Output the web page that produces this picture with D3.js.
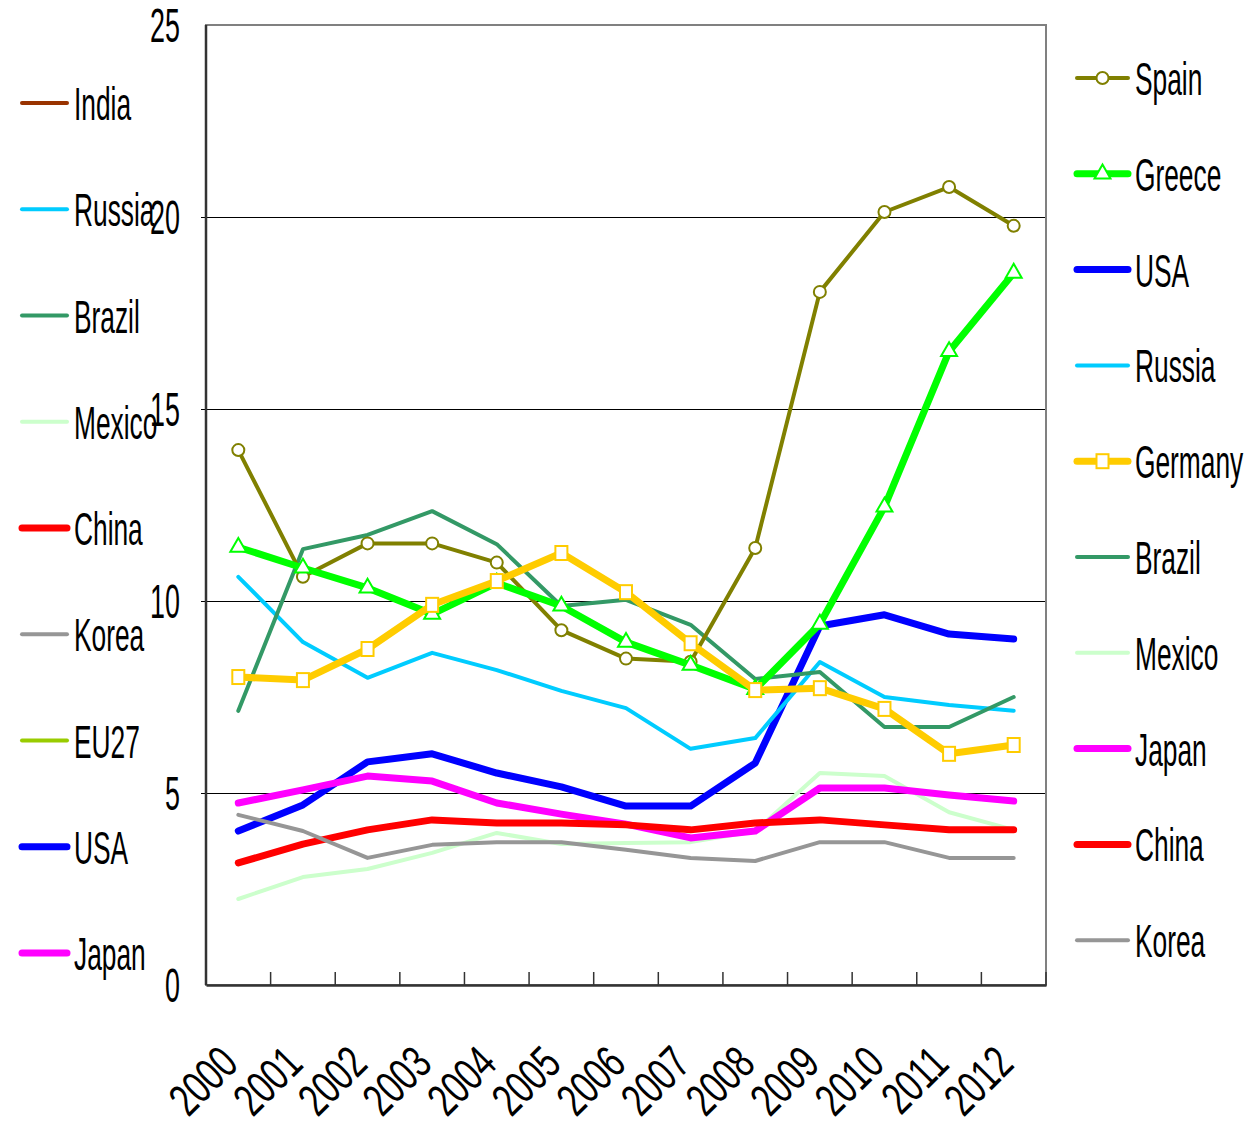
<!DOCTYPE html>
<html>
<head>
<meta charset="utf-8">
<script src="https://cdn.jsdelivr.net/npm/d3@7"></script>
<style>
  body { margin: 0; background: #fff; }
  text { font-family: "Liberation Sans", Arial, sans-serif; fill: #000; }
</style>
</head>
<body>
<div id="chart"></div>
<script>
// data
const years = ["2000","2001","2002","2003","2004","2005","2006","2007","2008","2009","2010","2011","2012"];
const yTicks = [0, 5, 10, 15, 20, 25];

const spain   = [13.93, 10.63, 11.5, 11.5, 11.0, 9.24, 8.5, 8.42, 11.38, 18.05, 20.13, 20.78, 19.77];
const greece  = [11.4, 10.86, 10.34, 9.66, 10.47, 9.87, 8.93, 8.33, 7.7, 9.4, 12.45, 16.5, 18.54];
const usa     = [4.01, 4.69, 5.81, 6.02, 5.52, 5.16, 4.66, 4.66, 5.78, 9.35, 9.64, 9.14, 9.01];
const russia  = [10.63, 8.93, 8.0, 8.65, 8.2, 7.66, 7.21, 6.15, 6.43, 8.41, 7.5, 7.29, 7.14];
const germany = [8.02, 7.94, 8.75, 9.9, 10.52, 11.25, 10.23, 8.9, 7.68, 7.73, 7.19, 6.02, 6.25];
const brazil  = [7.14, 11.35, 11.72, 12.34, 11.48, 9.87, 10.03, 9.38, 7.97, 8.15, 6.72, 6.72, 7.5];
const mexico  = [2.24, 2.81, 3.02, 3.44, 3.96, 3.67, 3.7, 3.72, 4.0, 5.52, 5.44, 4.5, 4.04];
const japan   = [4.74, 5.08, 5.44, 5.31, 4.74, 4.45, 4.19, 3.83, 4.01, 5.13, 5.13, 4.95, 4.79];
const china   = [3.18, 3.67, 4.04, 4.3, 4.22, 4.22, 4.17, 4.04, 4.22, 4.3, 4.17, 4.04, 4.04];
const korea   = [4.43, 4.01, 3.31, 3.65, 3.72, 3.72, 3.52, 3.31, 3.23, 3.72, 3.72, 3.31, 3.31];

const rightLegend = ["Spain", "Greece", "USA", "Russia", "Germany", "Brazil", "Mexico", "Japan", "China", "Korea"];
const leftLegend = ["India", "Russia", "Brazil", "Mexico", "China", "Korea", "EU27", "USA", "Japan"];

// styles per series
const style = {
  Spain:   { color: "#808000", w: 4, marker: "circle" },
  Greece:  { color: "#00ff00", w: 7, marker: "triangle" },
  USA:     { color: "#0000ff", w: 7 },
  Russia:  { color: "#00ccff", w: 4 },
  Germany: { color: "#ffcc00", w: 7, marker: "square" },
  Brazil:  { color: "#339966", w: 4 },
  Mexico:  { color: "#ccffcc", w: 4 },
  Japan:   { color: "#ff00ff", w: 7 },
  China:   { color: "#ff0000", w: 7 },
  Korea:   { color: "#969696", w: 4 },
  India:   { color: "#993300", w: 4 },
  EU27:    { color: "#99cc00", w: 4 }
};

// draw order, bottom to top
const series = [
  { name: "Mexico", values: mexico },
  { name: "USA", values: usa },
  { name: "Japan", values: japan },
  { name: "China", values: china },
  { name: "Korea", values: korea },
  { name: "Russia", values: russia },
  { name: "Brazil", values: brazil },
  { name: "Spain", values: spain },
  { name: "Greece", values: greece },
  { name: "Germany", values: germany }
];

const W = 1247, H = 1136;
const plot = { left: 206, right: 1046, top: 25, bottom: 985 };
const squash = 0.56;  // the original font is very narrow

const svg = d3.select("#chart").append("svg")
    .attr("width", W)
    .attr("height", H);

const x = d3.scaleBand()
    .domain(years)
    .range([plot.left, plot.right]);

const y = d3.scaleLinear()
    .domain([0, 25])
    .range([plot.bottom, plot.top]);

// grid
svg.append("g")
    .selectAll("line")
    .data(yTicks.filter(d => d > 0 && d < 25))
    .enter().append("line")
    .attr("x1", plot.left - 5)
    .attr("x2", plot.right)
    .attr("y1", d => Math.round(y(d)) + 0.5)
    .attr("y2", d => Math.round(y(d)) + 0.5)
    .attr("stroke", "#000")
    .attr("stroke-width", 1);

// frame
svg.append("rect")
    .attr("x", plot.left)
    .attr("y", plot.top)
    .attr("width", plot.right - plot.left)
    .attr("height", plot.bottom - plot.top)
    .attr("fill", "none")
    .attr("stroke", "#808080")
    .attr("stroke-width", 2);

// x axis with inner ticks
const xAxis = svg.append("g")
    .attr("transform", "translate(0," + plot.bottom + ")")
    .call(d3.axisBottom(x).tickSize(0).tickFormat(""));
xAxis.select(".domain").attr("stroke", "#333").attr("stroke-width", 2.5);
xAxis.selectAll(".tickmark")
    .data(years.slice(1).concat(["end"]))
    .enter().append("line")
    .attr("x1", (d, i) => x(years[0]) + x.step() * (i + 1))
    .attr("x2", (d, i) => x(years[0]) + x.step() * (i + 1))
    .attr("y1", 0)
    .attr("y2", -13)
    .attr("stroke", "#333")
    .attr("stroke-width", 1.5);

// left axis line
svg.append("line")
    .attr("x1", plot.left).attr("x2", plot.left)
    .attr("y1", plot.top).attr("y2", plot.bottom)
    .attr("stroke", "#333").attr("stroke-width", 2.5);

// y tick labels
svg.append("g")
    .selectAll("text")
    .data(yTicks)
    .enter().append("text")
    .attr("transform", d => "translate(180," + (y(d) + 17) + ") scale(" + squash + ",1)")
    .attr("text-anchor", "end")
    .style("font-size", "48px")
    .text(d => d);

// x tick labels, rotated
svg.append("g")
    .selectAll("text")
    .data(years)
    .enter().append("text")
    .attr("transform", d => "translate(" + (x(d) + x.bandwidth() / 2 + 2) + ",1066) rotate(-45) scale(0.72,1)")
    .attr("text-anchor", "end")
    .style("font-size", "46px")
    .text(d => d);

// lines
const line = d3.line()
    .x((d, i) => x(years[i]) + x.bandwidth() / 2)
    .y(d => y(d));

const tri = d3.symbol().type(d3.symbolTriangle).size(110);

function drawMarker(g, type, color) {
  if (type === "circle") {
    g.append("circle").attr("r", 6)
      .attr("fill", "#fff").attr("stroke", color).attr("stroke-width", 2);
  } else if (type === "square") {
    g.append("rect").attr("x", -6).attr("y", -7).attr("width", 12).attr("height", 14)
      .attr("fill", "#fff").attr("stroke", color).attr("stroke-width", 2);
  } else if (type === "triangle") {
    g.append("path").attr("d", tri)
      .attr("fill", "#fff").attr("stroke", color).attr("stroke-width", 2);
  }
}

series.forEach(s => {
  const st = style[s.name];
  svg.append("path")
      .datum(s.values)
      .attr("d", line)
      .attr("fill", "none")
      .attr("stroke", st.color)
      .attr("stroke-width", st.w)
      .attr("stroke-linejoin", "round")
      .attr("stroke-linecap", "round");

  if (st.marker) {
    s.values.forEach((v, i) => {
      const g = svg.append("g")
          .attr("transform", "translate(" + (x(years[i]) + x.bandwidth() / 2) + "," + y(v) + ")");
      drawMarker(g, st.marker, st.color);
    });
  }
});

// legends
function legend(names, x0, y0, gap, lineLen) {
  names.forEach((name, i) => {
    const st = style[name];
    const cy = y0 + i * gap;
    svg.append("line")
        .attr("x1", x0).attr("x2", x0 + lineLen)
        .attr("y1", cy).attr("y2", cy)
        .attr("stroke", st.color)
        .attr("stroke-width", st.w)
        .attr("stroke-linecap", "round");
    if (st.marker) {
      const g = svg.append("g").attr("transform", "translate(" + (x0 + lineLen / 2) + "," + cy + ")");
      drawMarker(g, st.marker, st.color);
    }
    svg.append("text")
        .attr("transform", "translate(" + (x0 + lineLen + 7) + "," + (cy + 17) + ") scale(" + squash + ",1)")
        .style("font-size", "47px")
        .text(name);
  });
}

legend(leftLegend, 22, 103, 106.25, 45);
legend(rightLegend, 1077, 78, 95.8, 51);
</script>
</body>
</html>
